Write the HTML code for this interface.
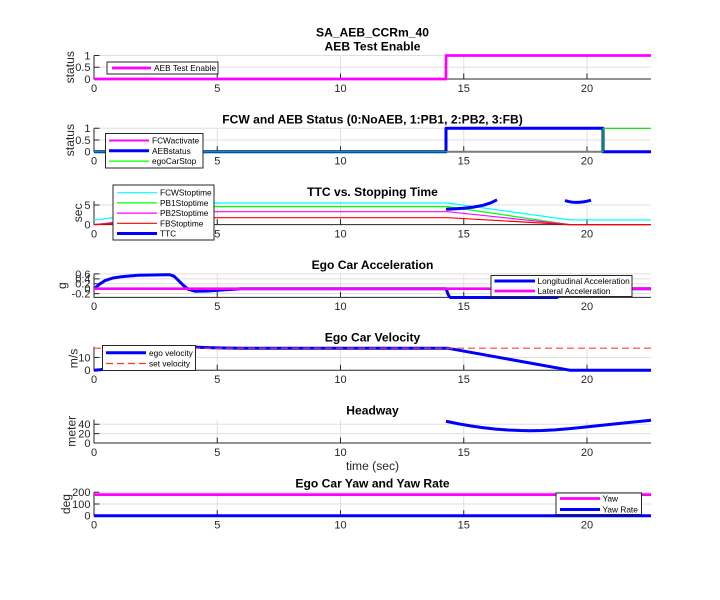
<!DOCTYPE html>
<html>
<head>
<meta charset="utf-8">
<style>
  html,body{margin:0;padding:0;background:#fff;}
  svg{display:block;}
  text{font-family:"Liberation Sans",Arial,sans-serif;}
  .tk{font-size:11px;fill:#262626;}
  .tl{font-size:12.1px;font-weight:bold;fill:#000;}
  .yl{font-size:12.1px;fill:#262626;}
  .lg{font-size:8.3px;fill:#000;}
  .grid{stroke:#dfdfdf;stroke-width:1;fill:none;}
  .ax{stroke:#262626;stroke-width:1;fill:none;}
  .leg{fill:#fff;stroke:#262626;stroke-width:1;}
  path.d{fill:none;stroke-linejoin:round;}
</style>
</head>
<body>
<svg width="720" height="600" viewBox="0 0 720 600" xmlns="http://www.w3.org/2000/svg">
<rect x="0" y="0" width="720" height="600" fill="#fff"/>

<!-- super title -->
<text class="tl" x="372.5" y="36.3" text-anchor="middle">SA_AEB_CCRm_40</text>

<!-- ============ PANEL 1 ============ -->
<g>
  <path class="grid" d="M217.25 55.5V79M340.5 55.5V79M463.75 55.5V79M587 55.5V79M94 55.5H651M94 67.25H651"/>
  <path class="ax" d="M94 55.5V79H651M217.25 79v-5.5M340.5 79v-5.5M463.75 79v-5.5M587 79v-5.5M94 55.5h5.5M94 67.25h5.5"/>
  <g class="tk" text-anchor="middle">
    <text x="94" y="91.8">0</text><text x="217.25" y="91.8">5</text><text x="340.5" y="91.8">10</text><text x="463.75" y="91.8">15</text><text x="587" y="91.8">20</text>
  </g>
  <g class="tk" text-anchor="end">
    <text x="90.5" y="59.4">1</text><text x="90.5" y="71.15">0.5</text><text x="90.5" y="82.9">0</text>
  </g>
  <text class="yl" x="70" y="67.25" text-anchor="middle" dominant-baseline="central" transform="rotate(-90 70 67.25)">status</text>
  <text class="tl" x="372.5" y="50.5" text-anchor="middle">AEB Test Enable</text>
  <path class="d" d="M94 79H446V55.5H651" stroke="#ff00ff" stroke-width="2.7"/>
  <rect class="leg" x="107" y="62" width="111" height="12"/>
  <line x1="112" y1="68" x2="151" y2="68" stroke="#ff00ff" stroke-width="2.7"/>
  <text class="lg" x="154" y="71">AEB Test Enable</text>
</g>

<!-- ============ PANEL 2 ============ -->
<g>
  <path class="grid" d="M217.25 128.3V151.8M340.5 128.3V151.8M463.75 128.3V151.8M587 128.3V151.8M94 128.3H651M94 140.05H651"/>
  <path class="ax" d="M94 128.3V151.8H651M217.25 151.8v-5.5M340.5 151.8v-5.5M463.75 151.8v-5.5M587 151.8v-5.5M94 128.3h5.5M94 140.05h5.5"/>
  <g class="tk" text-anchor="middle">
    <text x="94" y="164.6">0</text><text x="217.25" y="164.6">5</text><text x="340.5" y="164.6">10</text><text x="463.75" y="164.6">15</text><text x="587" y="164.6">20</text>
  </g>
  <g class="tk" text-anchor="end">
    <text x="90.5" y="132.2">1</text><text x="90.5" y="143.95">0.5</text><text x="90.5" y="155.7">0</text>
  </g>
  <text class="yl" x="70" y="140.05" text-anchor="middle" dominant-baseline="central" transform="rotate(-90 70 140.05)">status</text>
  <text class="tl" x="372.5" y="123.3" text-anchor="middle">FCW and AEB Status (0:NoAEB, 1:PB1, 2:PB2, 3:FB)</text>
  <path class="d" d="M94 151.8H651" stroke="#ff00ff" stroke-width="2"/>
  <path class="d" d="M94 151.8H446V128.3H603V151.8H651" stroke="#0000ff" stroke-width="3"/>
  <path class="d" d="M94 151.8H603V128.3H651" stroke="#00e000" stroke-width="1.2"/>
  <rect class="leg" x="105.5" y="133.5" width="97.5" height="34.5"/>
  <line x1="109" y1="140.5" x2="149" y2="140.5" stroke="#ff00ff" stroke-width="2"/>
  <line x1="109" y1="150.8" x2="149" y2="150.8" stroke="#0000ff" stroke-width="3"/>
  <line x1="109" y1="161.1" x2="149" y2="161.1" stroke="#00ff00" stroke-width="1.2"/>
  <text class="lg" x="152" y="143.5">FCWactivate</text>
  <text class="lg" x="152" y="153.8">AEBstatus</text>
  <text class="lg" x="152" y="164.1">egoCarStop</text>
</g>

<!-- ============ PANEL 3 ============ -->
<g>
  <path class="grid" d="M217.25 201.1V224.6M340.5 201.1V224.6M463.75 201.1V224.6M587 201.1V224.6M94 205H651"/>
  <path class="ax" d="M94 201.1V224.6H651M217.25 224.6v-5.5M340.5 224.6v-5.5M463.75 224.6v-5.5M587 224.6v-5.5M94 205h5.5"/>
  <g class="tk" text-anchor="middle">
    <text x="94" y="237.4">0</text><text x="217.25" y="237.4">5</text><text x="340.5" y="237.4">10</text><text x="463.75" y="237.4">15</text><text x="587" y="237.4">20</text>
  </g>
  <g class="tk" text-anchor="end">
    <text x="90.5" y="208.9">5</text><text x="90.5" y="228.5">0</text>
  </g>
  <text class="yl" x="78" y="212.85" text-anchor="middle" dominant-baseline="central" transform="rotate(-90 78 212.85)">sec</text>
  <text class="tl" x="372.5" y="196.1" text-anchor="middle">TTC vs. Stopping Time</text>
  <path class="d" d="M94 219.9L100.2 219.6L105.1 218.9L113.7 217.4L121.6 215.7L174 203L447.7 203L569.7 219.9L651 219.9" stroke="#00ffff" stroke-width="1.2"/>
  <path class="d" d="M94 224.6L100.2 224.2L105.1 223.6L113.7 222L121.6 220.1L174 206.6L447.7 206.6L569.7 224.6L651 224.6" stroke="#00ff00" stroke-width="1.2"/>
  <path class="d" d="M94 224.6L113.7 222.7L121.6 221.4L174 211.7L447.7 211.7L569.7 224.6L651 224.6" stroke="#ff00ff" stroke-width="1.2"/>
  <path class="d" d="M94 224.6L113.7 223.6L121.6 222.9L174 217.7L447.7 217.7L569.7 224.6L651 224.6" stroke="#ff0000" stroke-width="1.2"/>
  <path class="d" d="M446 209.2L453.9 208.9L463.75 208.2L473.6 207.1L483.5 205.2L490.9 202.8L497 199.8" stroke="#0000ff" stroke-width="3"/>
  <path class="d" d="M565 200.5Q576 204.5 591 200.2" stroke="#0000ff" stroke-width="3"/>
  <rect class="leg" x="113" y="185" width="101" height="55"/>
  <line x1="117" y1="192.7" x2="157" y2="192.7" stroke="#00ffff" stroke-width="1.2"/>
  <line x1="117" y1="202.9" x2="157" y2="202.9" stroke="#00ff00" stroke-width="1.2"/>
  <line x1="117" y1="213.1" x2="157" y2="213.1" stroke="#ff00ff" stroke-width="1.2"/>
  <line x1="117" y1="223.3" x2="157" y2="223.3" stroke="#ff0000" stroke-width="1.2"/>
  <line x1="117" y1="233.5" x2="157" y2="233.5" stroke="#0000ff" stroke-width="3"/>
  <text class="lg" x="160" y="195.7">FCWStoptime</text>
  <text class="lg" x="160" y="205.9">PB1Stoptime</text>
  <text class="lg" x="160" y="216.1">PB2Stoptime</text>
  <text class="lg" x="160" y="226.3">FBStoptime</text>
  <text class="lg" x="160" y="236.5">TTC</text>
</g>

<!-- ============ PANEL 4 ============ -->
<g>
  <path class="grid" d="M217.25 273.9V297.4M340.5 273.9V297.4M463.75 273.9V297.4M587 273.9V297.4M94 273.9H651M94 278.83H651M94 283.77H651M94 288.7H651M94 293.63H651"/>
  <path class="ax" d="M94 273.9V297.4H651M217.25 297.4v-5.5M340.5 297.4v-5.5M463.75 297.4v-5.5M587 297.4v-5.5M94 273.9h5.5M94 278.83h5.5M94 283.77h5.5M94 288.7h5.5M94 293.63h5.5"/>
  <g class="tk" text-anchor="middle">
    <text x="94" y="310.2">0</text><text x="217.25" y="310.2">5</text><text x="340.5" y="310.2">10</text><text x="463.75" y="310.2">15</text><text x="587" y="310.2">20</text>
  </g>
  <g class="tk" text-anchor="end">
    <text x="90.5" y="277.8">0.6</text><text x="90.5" y="282.73">0.4</text><text x="90.5" y="287.67">0.2</text><text x="90.5" y="292.6">0</text><text x="90.5" y="297.53">-0.2</text>
  </g>
  <text class="yl" x="62" y="285.65" text-anchor="middle" dominant-baseline="central" transform="rotate(-90 62 285.65)">g</text>
  <text class="tl" x="372.5" y="268.9" text-anchor="middle">Ego Car Acceleration</text>
  <path class="d" d="M94.3 288.7L100 283.8L105 280.6L113 278L121.7 276.7L138 275.3L165 274.7L170 274.8L174 276.2L178.3 280.3L183.3 285.3L188.3 289.3L195 291.2L208 291L222 290L241 288.8L446 288.7C447.5 291 447.5 296 450.5 297.5L556 297.5C560 297.5 562 289 566 288.7L651 288.7" stroke="#0000ff" stroke-width="3"/>
  <path class="d" d="M94 288.7H651" stroke="#ff00ff" stroke-width="2.7"/>
  <rect class="leg" x="491" y="275.5" width="141" height="21"/>
  <line x1="494.5" y1="281" x2="535" y2="281" stroke="#0000ff" stroke-width="3"/>
  <line x1="494.5" y1="291" x2="535" y2="291" stroke="#ff00ff" stroke-width="2.7"/>
  <text class="lg" x="537.5" y="284">Longitudinal Acceleration</text>
  <text class="lg" x="537.5" y="294">Lateral Acceleration</text>
</g>

<!-- ============ PANEL 5 ============ -->
<g>
  <path class="grid" d="M217.25 346.7V370.2M340.5 346.7V370.2M463.75 346.7V370.2M587 346.7V370.2M94 357.5H651"/>
  <path class="ax" d="M94 346.7V370.2H651M217.25 370.2v-5.5M340.5 370.2v-5.5M463.75 370.2v-5.5M587 370.2v-5.5M94 357.5h5.5"/>
  <g class="tk" text-anchor="middle">
    <text x="94" y="383">0</text><text x="217.25" y="383">5</text><text x="340.5" y="383">10</text><text x="463.75" y="383">15</text><text x="587" y="383">20</text>
  </g>
  <g class="tk" text-anchor="end">
    <text x="90.5" y="361.4">10</text><text x="90.5" y="374.1">0</text>
  </g>
  <text class="yl" x="73.5" y="358.45" text-anchor="middle" dominant-baseline="central" transform="rotate(-90 73.5 358.45)">m/s</text>
  <text class="tl" x="372.5" y="341.7" text-anchor="middle">Ego Car Velocity</text>
  <path class="d" d="M94 370.2L100.2 369.8L105.1 368.9L113.7 367L121.6 364.8L131 362.1L138.4 359.7L150.7 355.8L165.5 350.9L169.9 349.5L174.1 348.2L178.3 347.5L183.2 347L188.4 346.9L195.1 347.1L207.4 347.6L224.6 348L241.9 348.2L447.7 348.2L569.7 370.2L651 370.2" stroke="#0000ff" stroke-width="3"/>
  <path class="d" d="M94 348.2H651" stroke="#ff4040" stroke-width="1.2" stroke-dasharray="7 4"/>
  <rect class="leg" x="102.5" y="345.5" width="93" height="25"/>
  <line x1="106" y1="352.8" x2="146" y2="352.8" stroke="#0000ff" stroke-width="3"/>
  <line x1="106" y1="363.5" x2="146" y2="363.5" stroke="#ff3030" stroke-width="1.2" stroke-dasharray="7 4"/>
  <text class="lg" x="149" y="355.8">ego velocity</text>
  <text class="lg" x="149" y="366.5">set velocity</text>
</g>

<!-- ============ PANEL 6 ============ -->
<g>
  <path class="grid" d="M217.25 419.5V443M340.5 419.5V443M463.75 419.5V443M587 419.5V443M94 424.2H651M94 433.6H651"/>
  <path class="ax" d="M94 419.5V443H651M217.25 443v-5.5M340.5 443v-5.5M463.75 443v-5.5M587 443v-5.5M94 424.2h5.5M94 433.6h5.5"/>
  <g class="tk" text-anchor="middle">
    <text x="94" y="455.8">0</text><text x="217.25" y="455.8">5</text><text x="340.5" y="455.8">10</text><text x="463.75" y="455.8">15</text><text x="587" y="455.8">20</text>
  </g>
  <g class="tk" text-anchor="end">
    <text x="90.5" y="428.1">40</text><text x="90.5" y="437.5">20</text><text x="90.5" y="446.9">0</text>
  </g>
  <text class="yl" x="71.5" y="431.25" text-anchor="middle" dominant-baseline="central" transform="rotate(-90 71.5 431.25)">meter</text>
  <text class="tl" x="372.5" y="414.5" text-anchor="middle">Headway</text>
  <text class="yl" x="372.5" y="470" text-anchor="middle">time (sec)</text>
  <path class="d" d="M446 421.24L458.8 423.9L471.2 426.04L483.5 427.78L495.8 429.11L508.1 430.04L520.4 430.56L530.3 430.69L542.6 430.48L555 429.89L569.7 428.64L587 426.85L611.7 424.29L651 420.2" stroke="#0000ff" stroke-width="3"/>
</g>

<!-- ============ PANEL 7 ============ -->
<g>
  <path class="grid" d="M217.25 492.3V515.8M340.5 492.3V515.8M463.75 492.3V515.8M587 492.3V515.8M94 492.3H651M94 504.05H651"/>
  <path class="ax" d="M94 492.3V515.8H651M217.25 515.8v-5.5M340.5 515.8v-5.5M463.75 515.8v-5.5M587 515.8v-5.5M94 492.3h5.5M94 504.05h5.5"/>
  <g class="tk" text-anchor="middle">
    <text x="94" y="528.6">0</text><text x="217.25" y="528.6">5</text><text x="340.5" y="528.6">10</text><text x="463.75" y="528.6">15</text><text x="587" y="528.6">20</text>
  </g>
  <g class="tk" text-anchor="end">
    <text x="90.5" y="496.2">200</text><text x="90.5" y="507.95">100</text><text x="90.5" y="519.7">0</text>
  </g>
  <text class="yl" x="66" y="504.05" text-anchor="middle" dominant-baseline="central" transform="rotate(-90 66 504.05)">deg</text>
  <text class="tl" x="372.5" y="487.3" text-anchor="middle">Ego Car Yaw and Yaw Rate</text>
  <path class="d" d="M94 494.6H651" stroke="#ff00ff" stroke-width="2.7"/>
  <path class="d" d="M94 515.8H651" stroke="#0000ff" stroke-width="3"/>
  <rect class="leg" x="556" y="493" width="85.5" height="21.5"/>
  <line x1="560" y1="498.5" x2="600" y2="498.5" stroke="#ff00ff" stroke-width="2.7"/>
  <line x1="560" y1="509.5" x2="600" y2="509.5" stroke="#0000ff" stroke-width="3"/>
  <text class="lg" x="602.5" y="501.5">Yaw</text>
  <text class="lg" x="602.5" y="512.5">Yaw Rate</text>
</g>
</svg>
</body>
</html>
